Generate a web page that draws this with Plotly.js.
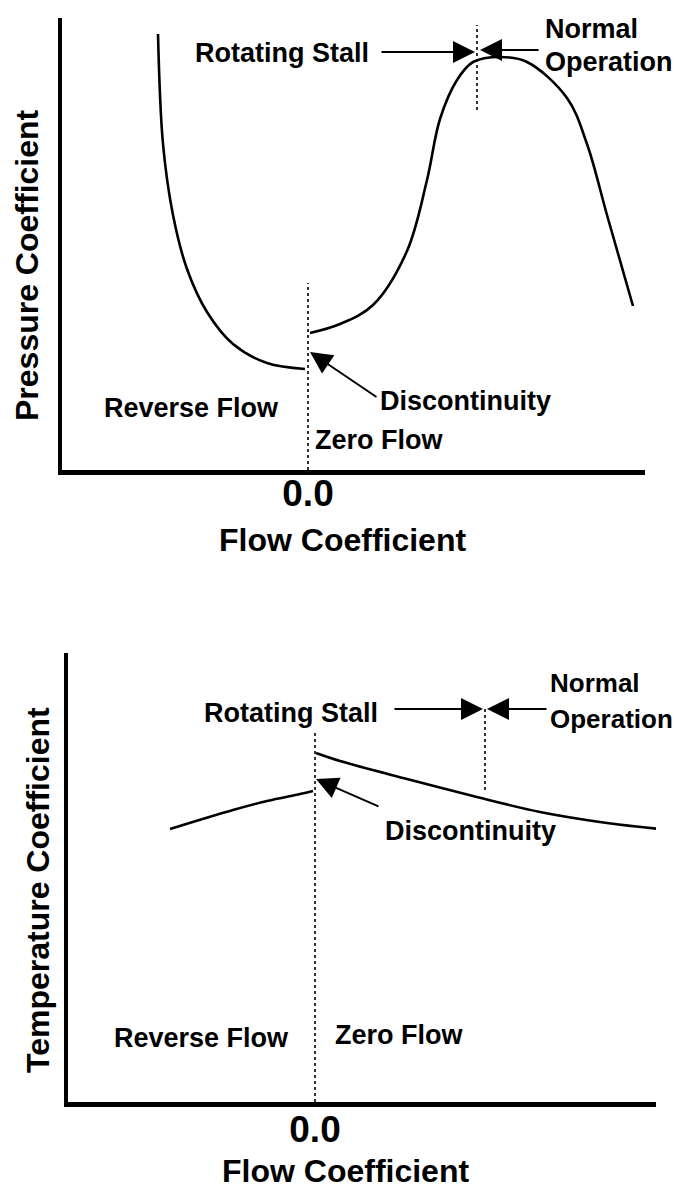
<!DOCTYPE html>
<html><head><meta charset="utf-8">
<script src="https://cdn.plot.ly/plotly-3.0.1.min.js"></script>
<style>html,body{margin:0;padding:0;background:#fff}</style>
</head><body><div id="chart" style="width:679px;height:1191px"></div>
<script>
// ---- Top panel: pressure coefficient vs flow coefficient ----
const pressReverseX = [-1.50, -1.45, -1.35, -1.21, -1.01, -0.75, -0.41, -0.03];
const pressReverseY = [4.36, 3.26, 2.55, 2.01, 1.58, 1.26, 1.07, 1.01];
const pressForwardX = [0.02, 0.32, 0.65, 0.99, 1.19, 1.32, 1.49, 1.65, 1.92, 2.19, 2.59, 2.79, 2.99, 3.25];
const pressForwardY = [1.37, 1.46, 1.65, 2.19, 2.90, 3.51, 3.90, 4.08, 4.13, 4.08, 3.72, 3.26, 2.55, 1.64];
const pressZeroFlowX = [0, 0];
const pressZeroFlowY = [0, 1.87];
const pressStallX = [1.69, 1.69];
const pressStallY = [3.60, 4.45];

// ---- Bottom panel: temperature coefficient vs flow coefficient ----
const tempReverseX = [-1.45, -0.82, -0.48, -0.15, -0.02];
const tempReverseY = [2.73, 2.92, 3.01, 3.08, 3.11];
const tempForwardX = [0.01, 0.25, 0.92, 1.58, 2.25, 2.92, 3.45];
const tempForwardY = [3.49, 3.41, 3.23, 3.06, 2.90, 2.79, 2.73];
const tempZeroFlowX = [0, 0];
const tempZeroFlowY = [0, 3.69];
const tempStallX = [1.70, 1.70];
const tempStallY = [3.12, 3.93];

const tickValues = [0];
const tickLabels = ['0.0'];

const FONT = 'Liberation Sans, Arial, Helvetica, sans-serif';
const W = 679, H = 1191;

function curve(x, y, xa, ya) {
  return {x: x, y: y, xaxis: xa, yaxis: ya, type: 'scatter', mode: 'lines',
    line: {color: 'black', width: 2.6, shape: 'spline', smoothing: 1}, hoverinfo: 'skip'};
}
function dotted(x, y, xa, ya) {
  return {x: x, y: y, xaxis: xa, yaxis: ya, type: 'scatter', mode: 'lines',
    line: {color: 'black', width: 1.6, dash: 'dot'}, hoverinfo: 'skip'};
}

const data = [
  curve(pressReverseX, pressReverseY, 'x', 'y'),
  curve(pressForwardX, pressForwardY, 'x', 'y'),
  dotted(pressZeroFlowX, pressZeroFlowY, 'x', 'y'),
  dotted(pressStallX, pressStallY, 'x', 'y'),
  curve(tempReverseX, tempReverseY, 'x2', 'y2'),
  curve(tempForwardX, tempForwardY, 'x2', 'y2'),
  dotted(tempZeroFlowX, tempZeroFlowY, 'x2', 'y2'),
  dotted(tempStallX, tempStallY, 'x2', 'y2')
];

function label(txt, x, y, xr, yr, size) {
  return {text: '<b>' + txt + '</b>', x: x, y: y, xref: xr, yref: yr, xanchor: 'left', yanchor: 'middle',
    showarrow: false, font: {family: FONT, size: size || 27, color: 'black'}};
}
function arrow(x, y, ax, ay, xr, yr) {
  return {text: '', x: x, y: y, ax: ax, ay: ay, xref: xr, yref: yr, axref: xr, ayref: yr,
    showarrow: true, arrowhead: 2, arrowsize: 2.2, arrowwidth: 2, arrowcolor: 'black', standoff: 0};
}
function title(txt, px, py, angle) {
  return {text: '<b>' + txt + '</b>', x: px / W, y: 1 - py / H, xref: 'paper', yref: 'paper',
    xanchor: 'center', yanchor: 'middle', textangle: angle, showarrow: false,
    font: {family: FONT, size: 32, color: 'black'}};
}

const annotations = [
  // top panel
  label('Rotating Stall', -1.15, 4.17, 'x', 'y'),
  arrow(1.67, 4.18, 0.72, 4.18, 'x', 'y'),
  label('Normal', 2.35, 4.41, 'x', 'y'),
  label('Operation', 2.35, 4.08, 'x', 'y'),
  arrow(1.72, 4.20, 2.32, 4.20, 'x', 'y'),
  label('Reverse Flow', -2.06, 0.62, 'x', 'y'),
  label('Discontinuity', 0.70, 0.69, 'x', 'y'),
  arrow(0.02, 1.18, 0.70, 0.72, 'x', 'y'),
  label('Zero Flow', 0.05, 0.30, 'x', 'y'),
  title('Pressure Coefficient', 27, 265, -90),
  title('Flow Coefficient', 342, 540, 0),
  // bottom panel
  label('Rotating Stall', -1.13, 3.89, 'x2', 'y2'),
  arrow(1.68, 3.93, 0.78, 3.93, 'x2', 'y2'),
  label('Normal', 2.33, 4.19, 'x2', 'y2', 26),
  label('Operation', 2.33, 3.83, 'x2', 'y2', 26),
  arrow(1.72, 3.93, 2.33, 3.93, 'x2', 'y2'),
  label('Discontinuity', 0.68, 2.71, 'x2', 'y2'),
  arrow(0.01, 3.23, 0.65, 2.95, 'x2', 'y2'),
  label('Reverse Flow', -2.03, 0.64, 'x2', 'y2'),
  label('Zero Flow', 0.18, 0.67, 'x2', 'y2'),
  title('Temperature Coefficient', 38, 890, -90),
  title('Flow Coefficient', 345, 1171, 0)
];

const xAxisCommon = {showline: true, linewidth: 4.5, linecolor: 'black', showgrid: false, zeroline: false,
  ticks: '', tickvals: tickValues, ticktext: tickLabels,
  tickfont: {family: FONT, size: 37, color: 'black', weight: 'bold'}, fixedrange: true};
const yAxisCommon = {showline: true, linewidth: 4.5, linecolor: 'black', showgrid: false, zeroline: false,
  ticks: '', showticklabels: false, fixedrange: true};

const layout = {
  width: W, height: H,
  margin: {l: 0, r: 0, t: 0, b: 0},
  paper_bgcolor: 'white', plot_bgcolor: 'white',
  showlegend: false,
  font: {family: FONT, color: 'black'},
  xaxis: Object.assign({}, xAxisCommon, {domain: [62 / W, 645 / W], range: [-2.46, 3.37], anchor: 'y',
    ticklabelstandoff: -13}),
  yaxis: Object.assign({}, yAxisCommon, {domain: [1 - 470 / H, 1 - 18 / H], range: [0, 4.52], anchor: 'x'}),
  xaxis2: Object.assign({}, xAxisCommon, {domain: [68 / W, 656 / W], range: [-2.47, 3.41], anchor: 'y2',
    ticklabelstandoff: -9}),
  yaxis2: Object.assign({}, yAxisCommon, {domain: [1 - 1102 / H, 1 - 653 / H], range: [0, 4.49], anchor: 'x2'}),
  annotations: annotations
};

Plotly.newPlot('chart', data, layout, {displayModeBar: false, staticPlot: true});
</script>
</body></html>
